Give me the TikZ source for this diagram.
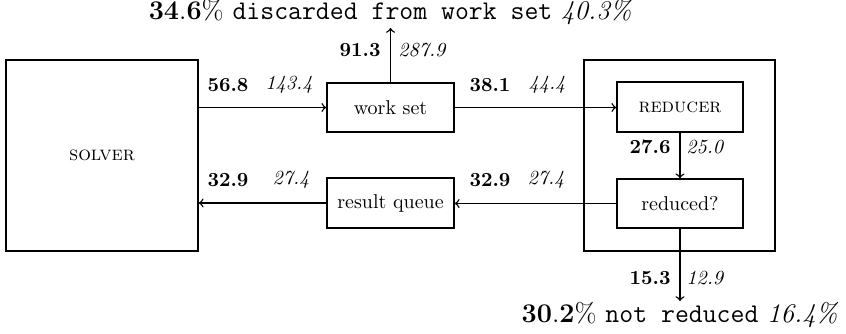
\documentclass[tikz,border=0pt]{standalone}
\usetikzlibrary{calc}
\begin{document}
\begin{tikzpicture}[x=0.5pt,y=-0.5pt,
  box/.style={draw,line width=0.8pt,inner sep=0pt,minimum width=63.5pt,minimum height=24.5pt},
  bigbox/.style={draw,line width=0.8pt,inner sep=0pt,minimum width=96pt,minimum height=95.5pt},
  flow/.style={->,line width=0.7pt},
  lbl/.style={inner sep=0pt,font=\normalsize},
  big/.style={inner sep=0pt,font=\fontsize{13.5}{16}\selectfont}]
\useasboundingbox (0,0) rectangle (846,333);

% main components
\node[bigbox] (solver) at (102,155.5) {\textsc{solver}};
\node[bigbox,minimum width=95.5pt] (outer) at (679.5,155.5) {};
\node[box] (workset) at (390.5,107.5) {work set};
\node[box,minimum height=25pt] (resultq) at (390.5,203) {result queue};
\node[box,minimum width=63pt,minimum height=25pt] (reducer) at (680,107) {\textsc{reducer}};
\node[box,minimum width=63pt] (reduced) at (680,203.5) {reduced?};

% outlets
\coordinate (topend) at (390.5,28);
\coordinate (botend) at (680,301);
\node[big,anchor=base] (discard) at (390.5,19) {\textbf{34}.\textbf{6}\% \texttt{discarded from work set} \textit{40.3\%}};
\node[big,anchor=base] (notred) at (680,322) {\textbf{30}.\textbf{2}\% \texttt{not reduced} \textit{16.4\%}};

% flows
\draw[flow] (solver.east |- workset.west) -- (workset.west);
\draw[flow] (workset.east) -- (workset.east -| reducer.west);
\draw[flow] (workset.north) -- (topend);
\draw[flow] (reducer.south) -- (reduced.north);
\draw[flow] (reduced.west) -- (reduced.west -| resultq.east);
\draw[flow] (resultq.west) -- (resultq.west -| solver.east);
\draw[flow] (reduced.south) -- (botend);

% flow figures
\node[lbl] (a1) at (228,85) {\textbf{56.8}};
\node[lbl] (a2) at (289,85) {\textit{143.4}};
\node[lbl] (b1) at (490,85) {\textbf{38.1}};
\node[lbl] (b2) at (547,85) {\textit{44.4}};
\node[lbl] (c1) at (228,180) {\textbf{32.9}};
\node[lbl] (c2) at (291,180) {\textit{27.4}};
\node[lbl] (d1) at (490,180) {\textbf{32.9}};
\node[lbl] (d2) at (546,180) {\textit{27.4}};
\node[lbl,anchor=east] (e1) at (381,50) {\textbf{91.3}};
\node[lbl,anchor=west] (e2) at (398,50) {\textit{287.9}};
\node[lbl,anchor=east] (f1) at (671,147) {\textbf{27.6}};
\node[lbl,anchor=west] (f2) at (686,147) {\textit{25.0}};
\node[lbl,anchor=east] (g1) at (671,278) {\textbf{15.3}};
\node[lbl,anchor=west] (g2) at (686,278) {\textit{12.9}};
\end{tikzpicture}
\end{document}
